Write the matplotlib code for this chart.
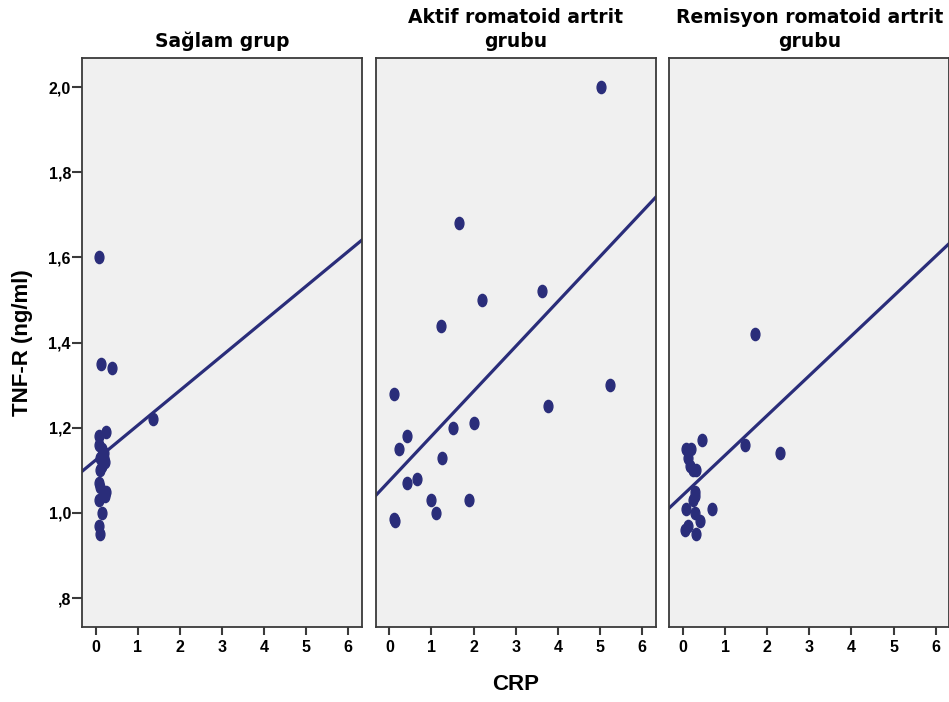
import numpy as np
import matplotlib
matplotlib.use("Agg")
import matplotlib.pyplot as plt
from matplotlib.path import Path

# Panel titles
titles = ["Sağlam grup", "Aktif romatoid artrit\ngrubu", "Remisyon romatoid artrit\ngrubu"]

# Sağlam grup (CRP, TNF-R)
crp_1 = [0.08, 0.12, 0.39, 1.37, 0.24, 0.09, 0.07, 0.15, 0.19, 0.11, 0.23, 0.15,
         0.11, 0.07, 0.11, 0.23, 0.07, 0.15, 0.07, 0.11, 0.25, 0.20]
tnf_1 = [1.60, 1.35, 1.34, 1.22, 1.19, 1.18, 1.16, 1.15, 1.14, 1.13, 1.12, 1.11,
         1.10, 1.07, 1.06, 1.04, 1.03, 1.00, 0.97, 0.95, 1.05, 1.13]

# Aktif romatoid artrit grubu
crp_2 = [5.02, 1.66, 3.62, 2.19, 1.22, 5.24, 0.11, 3.76, 2.01, 1.52, 0.41, 0.23,
         1.24, 0.65, 0.41, 0.99, 1.89, 1.11, 0.14, 0.12]
tnf_2 = [2.00, 1.68, 1.52, 1.50, 1.44, 1.30, 1.28, 1.25, 1.21, 1.20, 1.18, 1.15,
         1.13, 1.08, 1.07, 1.03, 1.03, 1.00, 0.98, 0.985]

# Remisyon romatoid artrit grubu
crp_3 = [1.70, 0.45, 1.48, 2.30, 0.08, 0.20, 0.12, 0.16, 0.24, 0.32, 0.28, 0.28,
         0.24, 0.08, 0.28, 0.70, 0.40, 0.12, 0.04, 0.32]
tnf_3 = [1.42, 1.17, 1.16, 1.14, 1.15, 1.15, 1.13, 1.11, 1.10, 1.10, 1.05, 1.04,
         1.03, 1.01, 1.00, 1.01, 0.98, 0.97, 0.96, 0.95]

# fit lines (intercept, slope)
fit_lines = [(1.124, 0.0817), (1.075, 0.1053), (1.042, 0.0934)]

groups = [(crp_1, tnf_1), (crp_2, tnf_2), (crp_3, tnf_3)]

y_ticks = [0.8, 1.0, 1.2, 1.4, 1.6, 1.8, 2.0]
y_ticklabels = [",8", "1,0", "1,2", "1,4", "1,6", "1,8", "2,0"]
x_ticks = [0, 1, 2, 3, 4, 5, 6]

navy = "#2a2d7a"
spine_col = "#3a3a3a"

# elliptical SPSS-like dot
circ = Path.unit_circle()
ellipse = Path(circ.vertices * np.array([0.72, 1.0]), circ.codes)

fig = plt.figure(figsize=(9.49, 7.02), dpi=100)
lefts = [0.0864, 0.3959, 0.7053]

for i, ((xs, ys), title, (b0, b1)) in enumerate(zip(groups, titles, fit_lines)):
    ax = fig.add_axes([lefts[i], 0.1068, 0.2950, 0.8105])
    ax.set_facecolor("#f0f0f0")
    ax.set_xlim(-0.325, 6.325)
    ax.set_ylim(0.732, 2.068)

    xl = np.array(ax.get_xlim())
    ax.plot(xl, b0 + b1 * xl, color=navy, lw=2.3, zorder=2)
    ax.plot(xs, ys, linestyle="none", marker=ellipse, ms=8.8,
            color=navy, mec=navy, zorder=3)

    for s in ax.spines.values():
        s.set_color(spine_col)
        s.set_linewidth(1.3)

    ax.set_xticks(x_ticks)
    ax.set_xticklabels([str(t) for t in x_ticks], fontsize=11.5, fontweight="bold",
                       family="Liberation Sans")
    ax.tick_params(axis="x", length=6, width=1.5, color=spine_col, pad=3)
    if i == 0:
        ax.set_yticks(y_ticks)
        ax.set_yticklabels(y_ticklabels, fontsize=11.5, fontweight="bold",
                           family="Liberation Sans")
        ax.tick_params(axis="y", length=7, width=1.5, color=spine_col, pad=1)
        ax.set_ylabel("TNF-R (ng/ml)", fontsize=16, fontweight="bold",
                      family="Liberation Sans", labelpad=11)
    else:
        ax.set_yticks([])
    if i == 1:
        ax.set_xlabel("CRP", fontsize=16, fontweight="bold",
                      family="Liberation Sans", labelpad=14)

    ax.set_title(title, fontsize=13.5, fontweight="bold", family="DejaVu Sans",
                 pad=8, linespacing=1.35)

fig.savefig("out.png", dpi=100)
